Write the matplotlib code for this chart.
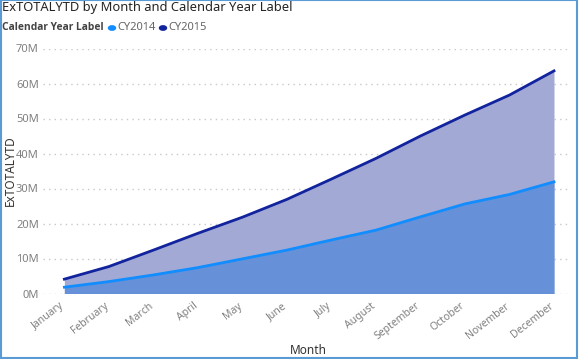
import matplotlib
matplotlib.use('Agg')
import matplotlib.pyplot as plt
import matplotlib.patches as mpatches
import matplotlib.transforms as mtransforms
from matplotlib.ticker import FuncFormatter
import numpy as np

months = ['January', 'February', 'March', 'April', 'May', 'June',
          'July', 'August', 'September', 'October', 'November', 'December']
cy2014 = [1.8, 3.4, 5.3, 7.4, 9.9, 12.4, 15.3, 18.1, 21.9, 25.6, 28.3, 31.9]   # millions
cy2015 = [4.1, 7.7, 12.4, 17.2, 21.8, 26.9, 32.7, 38.6, 45.0, 51.0, 56.7, 63.6]
series_names = ['CY2014', 'CY2015']

C14 = '#118DFF'
C15 = '#12239E'
plt.rcParams['font.family'] = ['Noto Sans', 'DejaVu Sans']

fig = plt.figure(figsize=(5.79, 3.59), dpi=100)
ax = fig.add_axes([43/579, 1 - 293.5/359, (570 - 43)/579, (293.5 - 48.5)/359])

x = np.arange(len(months))
ax.fill_between(x, 0, cy2015, color='#A2A9D4', linewidth=0)
ax.fill_between(x, 0, cy2014, color='#6690D8', linewidth=0)
ax.plot(x, cy2015, color=C15, linewidth=2)
ax.plot(x, cy2014, color=C14, linewidth=2)

ax.set_xlim(-0.48, 11.36)
ax.set_ylim(0, 70)
ax.set_yticks(range(0, 71, 10))
ax.yaxis.set_major_formatter(FuncFormatter(lambda v, p: f'{v:.0f}M'))
ax.set_xticks(x)
ax.set_xticklabels(months, rotation=38, ha='right', rotation_mode='anchor')
ax.tick_params(length=0, labelsize=7.5, colors='#808080', pad=5)
ax.tick_params(axis='y', pad=3, labelsize=8)
shift = mtransforms.ScaledTranslation(-5/100, 0, fig.dpi_scale_trans)
for lbl in ax.get_xticklabels():
    lbl.set_transform(lbl.get_transform() + shift)
ax.grid(axis='y', linestyle=(0, (1, 3)), color='#C8C8C8', linewidth=1)
ax.set_axisbelow(True)
for s in ax.spines.values():
    s.set_visible(False)

ax.set_ylabel('ExTOTALYTD', fontsize=8.5, color='#333333')
ax.yaxis.set_label_coords(10/579, 1 - 171/359, transform=fig.transFigure)
ax.set_xlabel('Month', fontsize=8.5, color='#333333')
ax.xaxis.set_label_coords(308/579, 1 - 350/359, transform=fig.transFigure)
ax.xaxis.label.set_va('center')
ax.yaxis.label.set_va('center')

fig.text(0.004, 1 - 7/359, 'ExTOTALYTD by Month and Calendar Year Label', fontsize=9.3,
         color='#252423', va='center', ha='left')
ly = 1 - 28/359
fig.text(0.004, ly, 'Calendar Year Label', fontsize=7.4, fontweight='bold',
         family=['Open Sans', 'DejaVu Sans'], color='#444444', va='center', ha='left')
fig.patches.append(mpatches.Circle((112/579, ly), 3.5/579, transform=fig.transFigure,
                                   color=C14, figure=fig))
fig.text(117/579, ly, series_names[0], fontsize=8, color='#666666', va='center', ha='left')
fig.patches.append(mpatches.Circle((163/579, ly), 3.5/579, transform=fig.transFigure,
                                   color=C15, figure=fig))
fig.text(168/579, ly, series_names[1], fontsize=8, color='#666666', va='center', ha='left')

# frame around the visual
fig.patches.append(mpatches.Rectangle((0.001, 0.003), 0.996, 0.996, transform=fig.transFigure,
                                      fill=False, edgecolor='#5B9BD5', linewidth=1.5, figure=fig))

plt.savefig('out.png', dpi=100)
plt.close()
